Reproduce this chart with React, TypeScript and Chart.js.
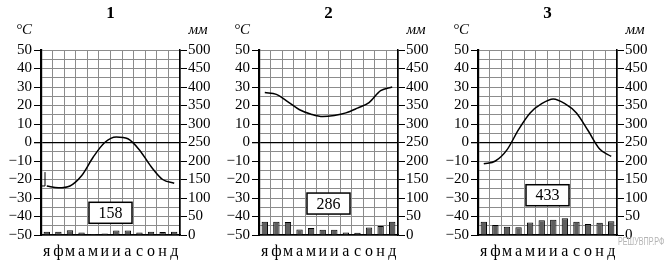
import React, { useEffect, useRef } from "react";
import { Chart, registerables } from "chart.js";

Chart.register(...registerables);

const months = ["я", "ф", "м", "а", "м", "и", "и", "а", "с", "о", "н", "д"];
const chartTitles = ["1", "2", "3"];
const totals = ["158", "286", "433"];

const temp1 = [-23.5, -24.5, -23.5, -18, -8, 0, 3, 2, -4, -13, -20, -22];
const temp2 = [27, 26, 22, 17.7, 15.3, 14, 14.6, 16, 18.6, 21.6, 28, 30];
const temp3 = [-11.5, -10, -4, 7, 16, 21, 23.5, 21, 16, 6.5, -3.5, -7.5];

const precip1 = [9, 9, 13, 7, 3, 4, 12, 12, 7, 9, 8, 9];
const precip2 = [36, 36, 35, 15, 19, 14, 14, 7, 6, 20, 24, 36];
const precip3 = [36, 27, 22, 21, 34, 40, 41, 45, 36, 30, 33, 37];

const tempMin = -50;
const tempMax = 50;
const precipMin = 0;
const precipMax = 500;

// layout / style constants (not data)
const boxTemps = [-38, -33, -28.5];
const canvasLefts = [0, 218, 437];
const SERIF = "'Liberation Serif', 'Times New Roman', serif";
const GRID = "#8c8c8c";

function fmtTemp(v: number) {
  if (v % 10 !== 0) return "";
  return v < 0 ? "\u2212" + Math.abs(v) : String(v);
}

type Props = {
  idx: number;
  temps: number[];
  precip: number[];
  bracket?: boolean;
};

function ClimateChart({ idx, temps, precip, bracket }: Props) {
  const ref = useRef<HTMLCanvasElement | null>(null);
  useEffect(() => {
    if (!ref.current) return;
    const decor = {
      id: "decor" + idx,
      afterDraw(chart: any) {
        const { ctx, chartArea } = chart;
        const y = chart.scales.y;
        const cx = (chartArea.left + chartArea.right) / 2;
        ctx.save();
        ctx.fillStyle = "#000";
        ctx.textAlign = "center";
        ctx.textBaseline = "middle";
        ctx.font = "bold 17px " + SERIF;
        ctx.fillText(chartTitles[idx], cx, 14);
        ctx.font = "italic 15px " + SERIF;
        ctx.fillText("°C", chartArea.left - 17, 30);
        ctx.fillText("мм", chartArea.right + 18, 30);
        // total box
        const by = y.getPixelForValue(boxTemps[idx]);
        const bw = 43;
        const bh = 21;
        ctx.fillStyle = "#fff";
        ctx.fillRect(cx - bw / 2, by - bh / 2, bw, bh);
        ctx.strokeStyle = "#000";
        ctx.lineWidth = 1.5;
        ctx.strokeRect(cx - bw / 2, by - bh / 2, bw, bh);
        ctx.fillStyle = "#000";
        ctx.font = "16px " + SERIF;
        ctx.fillText(totals[idx], cx, by + 1);
        if (bracket) {
          const x0 = chartArea.left + 4;
          const y1 = y.getPixelForValue(-16);
          const y2 = y.getPixelForValue(-23.5);
          ctx.lineWidth = 1;
          ctx.beginPath();
          ctx.moveTo(x0, y1);
          ctx.lineTo(x0, y2);
          ctx.lineTo(x0 - 3, y2);
          ctx.stroke();
        }
        ctx.restore();
      },
    };
    const chart = new Chart(ref.current, {
      type: "bar",
      data: {
        labels: months,
        datasets: [
          {
            type: "line",
            data: temps,
            yAxisID: "y",
            borderColor: "#000",
            borderWidth: 1.5,
            pointRadius: 0,
            cubicInterpolationMode: "monotone",
            fill: false,
            order: 0,
          } as any,
          {
            type: "bar",
            data: precip,
            yAxisID: "y2",
            backgroundColor: "#5e5e5e",
            borderColor: "#000",
            borderWidth: 1,
            barPercentage: 0.55,
            categoryPercentage: 1,
            order: 1,
          } as any,
        ],
      },
      options: {
        animation: false,
        responsive: false,
        maintainAspectRatio: false,
        layout: { padding: { top: 50, left: 0, right: 0, bottom: 0 } },
        plugins: { legend: { display: false }, tooltip: { enabled: false }, title: { display: false } },
        scales: {
          x: {
            type: "category",
            offset: true,
            grid: { offset: true, color: GRID, lineWidth: 1, drawTicks: false },
            border: { color: "#000", width: 1.5 },
            ticks: { color: "#000", font: { family: SERIF, size: 16 }, padding: 7, maxRotation: 0, autoSkip: false },
            afterFit(s: any) {
              s.height = 35;
            },
          },
          y: {
            position: "left",
            min: tempMin,
            max: tempMax,
            grid: {
              color: (c: any) => (c.tick && c.tick.value === 0 ? "#000" : GRID),
              lineWidth: (c: any) => (c.tick && c.tick.value === 0 ? 1.3 : 1),
              tickColor: (c: any) => (c.tick && c.tick.value % 10 === 0 ? "#000" : "rgba(0,0,0,0)"),
              tickLength: 7,
            },
            border: { color: "#000", width: 2.2 },
            ticks: {
              stepSize: 5,
              autoSkip: false,
              color: "#000",
              padding: 2,
              font: { family: SERIF, size: 15 },
              callback: (v: any) => fmtTemp(Number(v)),
            },
            afterFit(s: any) {
              s.width = 41;
            },
          },
          y2: {
            position: "right",
            min: precipMin,
            max: precipMax,
            grid: { drawOnChartArea: false, color: "#000", tickLength: 7 },
            border: { color: "#000", width: 1.5 },
            ticks: {
              stepSize: 50,
              autoSkip: false,
              color: "#000",
              padding: 1,
              font: { family: SERIF, size: 15 },
            },
            afterFit(s: any) {
              s.width = 42;
            },
          },
        },
      },
      plugins: [decor],
    } as any);
    return () => chart.destroy();
  }, [idx, temps, precip, bracket]);
  return (
    <canvas
      ref={ref}
      width={222}
      height={270}
      style={{ position: "absolute", left: canvasLefts[idx], top: 0, width: 222, height: 270 }}
    />
  );
}

export default function App() {
  return (
    <div style={{ position: "absolute", left: 0, top: 0, width: 666, height: 270, background: "#fff", overflow: "hidden" }}>
      <ClimateChart idx={0} temps={temp1} precip={precip1} bracket />
      <ClimateChart idx={1} temps={temp2} precip={precip2} />
      <ClimateChart idx={2} temps={temp3} precip={precip3} />
      <span
        style={{
          position: "absolute",
          left: 618,
          top: 236,
          fontFamily: "'Liberation Sans', sans-serif",
          fontSize: 10,
          color: "#b4b4b4",
          transform: "scaleX(0.72)",
          transformOrigin: "left top",
          whiteSpace: "nowrap",
          lineHeight: "12px",
        }}
      >
        РЕШУВПР.РФ
      </span>
    </div>
  );
}
